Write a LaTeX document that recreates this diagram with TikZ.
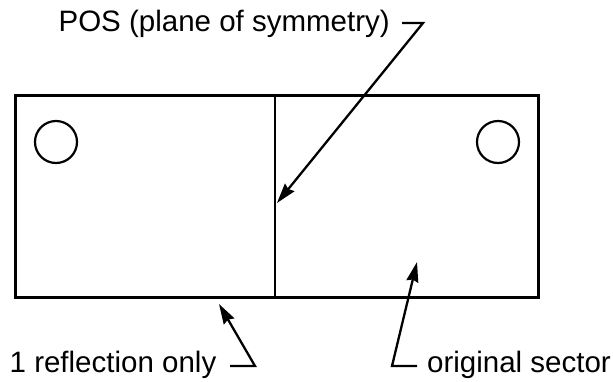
\documentclass[tikz,border=0pt]{standalone}
\usepackage{fontspec}
\setmainfont{Liberation Sans}
\usetikzlibrary{arrows.meta}
\begin{document}
\begin{tikzpicture}[x=1pt,y=-1pt,
  lbl/.style={anchor=base west,inner sep=0pt,font=\fontsize{29.5}{35}\selectfont},
  leader/.style={line width=2.3pt,-{Stealth[length=20pt,width=12pt,inset=2pt]}},
  frame/.style={line width=3pt},
  hole/.style={line width=2.2pt}]
\useasboundingbox (0,0) rectangle (613,381);
\draw[frame] (15,95) rectangle (538,297);
\draw[hole] (275,96) -- (275,296);
\draw[hole] (56,142) circle (21);
\draw[hole] (498,142) circle (21);
\node[lbl] (pos) at (58.4,31) {POS (plane of symmetry)};
\node[lbl] (refl) at (9.5,372.5) {1 reflection only};
\node[lbl] (orig) at (427,372.5) {original sector};
\coordinate (p1) at (402,23);
\coordinate (p2) at (423,23);
\coordinate (ptip) at (277,203);
\coordinate (r1) at (230,366);
\coordinate (r2) at (255,366);
\coordinate (rtip) at (219,304);
\coordinate (o1) at (417,366);
\coordinate (o2) at (392,366);
\coordinate (otip) at (417,262);
\draw[leader] (p1) -- (p2) -- (ptip);
\draw[leader] (r1) -- (r2) -- (rtip);
\draw[leader] (o1) -- (o2) -- (otip);
\end{tikzpicture}
\end{document}
